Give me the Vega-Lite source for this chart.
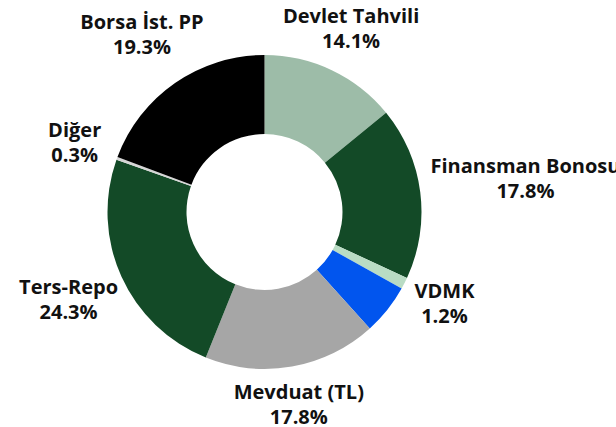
{
  "$schema": "https://vega.github.io/schema/vega-lite/v6.json",
  "width": 529,
  "height": 424,
  "autosize": {"type": "none"},
  "padding": {"left": 0, "top": 0, "right": 87, "bottom": 3},
  "background": "#ffffff",
  "view": {"stroke": null},
  "config": {
    "text": {"font": "Open Sans", "fontWeight": "bold", "fontSize": 20, "lineBreak": "\n", "lineHeight": 25, "baseline": "middle", "align": "center", "color": "#111111", "dy": -12}
  },
  "data": {
    "values": [
      {"idx": 1, "name": "Devlet Tahvili", "value": 14.1},
      {"idx": 2, "name": "Finansman Bonosu", "value": 17.8},
      {"idx": 3, "name": "VDMK", "value": 1.2},
      {"idx": 4, "name": "Diğer Menkul Kıymet", "value": 5.2},
      {"idx": 5, "name": "Mevduat (TL)", "value": 17.8},
      {"idx": 6, "name": "Ters-Repo", "value": 24.3},
      {"idx": 7, "name": "Diğer", "value": 0.3},
      {"idx": 8, "name": "Borsa İst. PP", "value": 19.3}
    ]
  },
  "transform": [
    {"stack": "value", "groupby": [], "sort": [{"field": "idx", "order": "ascending"}], "as": ["v0", "v1"]},
    {"calculate": "(datum.v0 + datum.v1) / 2", "as": "mid"},
    {"calculate": "datum.name + '\\n' + format(datum.value, '.1f') + '%'", "as": "label"}
  ],
  "layer": [
    {
      "mark": {"type": "arc", "outerRadius": 157, "innerRadius": 78},
      "encoding": {
        "theta": {"field": "v0", "type": "quantitative", "scale": {"domain": [0, 100]}},
        "theta2": {"field": "v1"},
        "color": {
          "field": "name",
          "type": "nominal",
          "legend": null,
          "scale": {
            "domain": ["Devlet Tahvili", "Finansman Bonosu", "VDMK", "Diğer Menkul Kıymet", "Mevduat (TL)", "Ters-Repo", "Diğer", "Borsa İst. PP"],
            "range": ["#9dbca8", "#134a27", "#b9dcc4", "#0155ee", "#a6a6a6", "#134a27", "#d6d6d6", "#000000"]
          }
        }
      }
    },
    {
      "transform": [{"filter": "indexof(['Devlet Tahvili','VDMK','Diğer'], datum.name) >= 0"}],
      "mark": {"type": "text", "radius": 202},
      "encoding": {
        "theta": {"field": "mid", "type": "quantitative", "stack": null, "scale": {"domain": [0, 100]}},
        "text": {"field": "label", "type": "nominal"}
      }
    },
    {
      "transform": [{"filter": "datum.name == 'Mevduat (TL)'"}],
      "mark": {"type": "text", "radius": 196},
      "encoding": {
        "theta": {"field": "mid", "type": "quantitative", "stack": null, "scale": {"domain": [0, 100]}},
        "text": {"field": "label", "type": "nominal"}
      }
    },
    {
      "transform": [{"filter": "indexof(['Ters-Repo','Borsa İst. PP'], datum.name) >= 0"}],
      "mark": {"type": "text", "radius": 215},
      "encoding": {
        "theta": {"field": "mid", "type": "quantitative", "stack": null, "scale": {"domain": [0, 100]}},
        "text": {"field": "label", "type": "nominal"}
      }
    },
    {
      "transform": [{"filter": "datum.name == 'Finansman Bonosu'"}],
      "mark": {"type": "text", "radius": 263},
      "encoding": {
        "theta": {"field": "mid", "type": "quantitative", "stack": null, "scale": {"domain": [0, 100]}},
        "text": {"field": "label", "type": "nominal"}
      }
    }
  ]
}
